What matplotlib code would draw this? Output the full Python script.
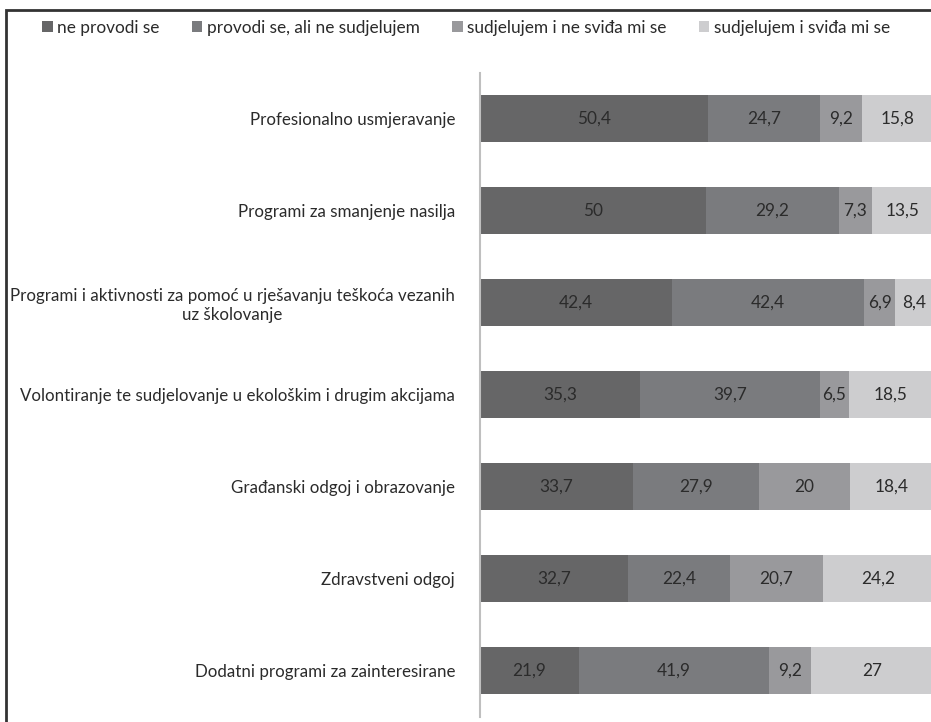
import matplotlib.pyplot as plt
from matplotlib.patches import Rectangle
import numpy as np

plt.rcParams['font.family'] = ['Lato', 'DejaVu Sans']

categories = [
    "Profesionalno usmjeravanje",
    "Programi za smanjenje nasilja",
    "Programi i aktivnosti za pomoć u rješavanju teškoća vezanih\nuz školovanje",
    "Volontiranje te sudjelovanje u ekološkim i drugim akcijama",
    "Građanski odgoj i obrazovanje",
    "Zdravstveni odgoj",
    "Dodatni programi za zainteresirane",
]
series_names = [
    "ne provodi se",
    "provodi se, ali ne sudjelujem",
    "sudjelujem i ne sviđa mi se",
    "sudjelujem i sviđa mi se",
]
ne_provodi = [50.4, 50, 42.4, 35.3, 33.7, 32.7, 21.9]
ne_sudjelujem = [24.7, 29.2, 42.4, 39.7, 27.9, 22.4, 41.9]
ne_svida = [9.2, 7.3, 6.9, 6.5, 20, 20.7, 9.2]
svida = [15.8, 13.5, 8.4, 18.5, 18.4, 24.2, 27]

colors = ["#666667", "#7a7b7e", "#99999c", "#cdcdcf"]
text_color = "#2b2b2b"
fs = 12.4

fig = plt.figure(figsize=(9.31, 7.22), dpi=100)
ax = fig.add_axes([480 / 931, 1 - 717 / 722, 1 - 480 / 931 + 0.002, (717 - 72.5) / 722])

y = np.arange(len(categories))
left = np.zeros(len(categories))
for name, vals, c in zip(series_names, [ne_provodi, ne_sudjelujem, ne_svida, svida], colors):
    vals = np.array(vals, dtype=float)
    ax.barh(y, vals, left=left, height=0.51, color=c, label=name)
    for yi, l, v in zip(y, left, vals):
        txt = f"{v:g}".replace(".", ",")
        ax.text(l + v / 2, yi, txt, ha="center", va="center",
                fontsize=fs, color=text_color)
    left += vals

ax.set_ylim(len(categories) - 0.5, -0.5)
ax.set_xlim(0, 100)
ax.set_yticks(y)
ax.set_yticklabels(categories, fontsize=12.2, color=text_color, multialignment="center")
ax.tick_params(axis="y", length=0, pad=18)
ax.set_xticks([])
for s in ["top", "right", "bottom"]:
    ax.spines[s].set_visible(False)
ax.spines["left"].set_color("#bfbfbf")
ax.spines["left"].set_linewidth(1.5)

handles, labels = ax.get_legend_handles_labels()
fig.legend(handles, labels, loc="center", bbox_to_anchor=(466 / 931, 1 - 28 / 722), ncol=4,
           frameon=False, fontsize=fs, handlelength=0.6, handleheight=0.6,
           handletextpad=0.25, columnspacing=1.9, labelcolor=text_color)

# outer frame
fig.patches.append(Rectangle((6 / 931, -0.05), 1.2, 1 - 10 / 722 + 0.05, transform=fig.transFigure,
                             fill=False, edgecolor="#333333", linewidth=2))

fig.savefig("out.png", dpi=100)
